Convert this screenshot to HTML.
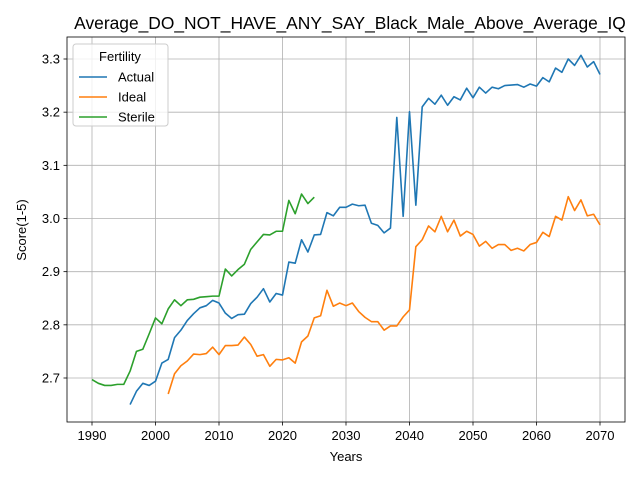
<!DOCTYPE html>
<html><head><meta charset="utf-8"><style>
body{margin:0;background:#fff;}
svg{display:block;font-family:"Liberation Sans","DejaVu Sans",sans-serif;}
</style></head><body>
<svg id="chart" width="640" height="480" viewBox="0 0 640 480" xmlns="http://www.w3.org/2000/svg">
<rect width="640" height="480" fill="#fff"/>
<g id="grid"></g>
<g id="series"></g>
<rect x="67" y="37" width="558" height="385" fill="none" stroke="#000" stroke-width="0.8"/>
<g id="ticks"></g>
<text x="350" y="29" text-anchor="middle" font-size="17.4">Average_DO_NOT_HAVE_ANY_SAY_Black_Male_Above_Average_IQ</text>
<text x="346" y="461" text-anchor="middle" font-size="13">Years</text>
<text transform="translate(26,230) rotate(-90)" text-anchor="middle" font-size="13">Score(1-5)</text>
<g id="legend">
<rect x="73" y="44" width="95" height="82" rx="3" fill="#fff" fill-opacity="0.8" stroke="#ccc"/>
<text x="120" y="61" text-anchor="middle" font-size="13">Fertility</text>
</g>
</svg>
<script>
const xTicks=[1990,2000,2010,2020,2030,2040,2050,2060,2070];
const yTicks=[2.7,2.8,2.9,3.0,3.1,3.2,3.3];
const seriesNames=["Actual","Ideal","Sterile"];
const seriesColors=["#1f77b4","#ff7f0e","#2ca02c"];
const actualStart=1996;
const actualValues=[2.65,2.675,2.69,2.686,2.694,2.728,2.735,2.776,2.79,2.808,2.821,2.832,2.836,2.846,2.841,2.822,2.812,2.819,2.82,2.84,2.852,2.868,2.843,2.859,2.856,2.918,2.916,2.96,2.937,2.969,2.97,3.011,3.005,3.021,3.021,3.027,3.024,3.025,2.991,2.987,2.973,2.982,3.19,3.004,3.201,3.025,3.21,3.226,3.215,3.232,3.213,3.229,3.223,3.245,3.227,3.247,3.236,3.247,3.244,3.25,3.251,3.252,3.247,3.253,3.249,3.265,3.257,3.283,3.275,3.3,3.288,3.307,3.285,3.295,3.271];
const idealStart=2002;
const idealValues=[2.67,2.708,2.723,2.732,2.745,2.744,2.746,2.758,2.744,2.761,2.761,2.762,2.777,2.763,2.741,2.744,2.722,2.735,2.734,2.738,2.728,2.768,2.779,2.813,2.817,2.865,2.835,2.841,2.836,2.841,2.825,2.814,2.806,2.806,2.79,2.798,2.798,2.815,2.828,2.947,2.96,2.986,2.975,3.004,2.975,2.997,2.967,2.976,2.97,2.948,2.957,2.944,2.951,2.951,2.94,2.944,2.939,2.951,2.955,2.974,2.966,3.004,2.997,3.041,3.015,3.035,3.005,3.008,2.988];
const sterileStart=1990;
const sterileValues=[2.697,2.69,2.686,2.686,2.688,2.688,2.713,2.75,2.754,2.783,2.813,2.802,2.83,2.847,2.836,2.847,2.848,2.852,2.853,2.854,2.854,2.905,2.892,2.904,2.914,2.942,2.956,2.97,2.969,2.976,2.976,3.034,3.009,3.046,3.028,3.04];

const NS="http://www.w3.org/2000/svg";
function X(yr){return 92+(yr-1990)*(600-92)/80;}
function Y(v){return 378-(v-2.7)*(378-59)/0.6;}
function mk(tag,attrs,parent){const e=document.createElementNS(NS,tag);for(const k in attrs)e.setAttribute(k,attrs[k]);parent.appendChild(e);return e;}
const grid=document.getElementById('grid'),ticks=document.getElementById('ticks'),ser=document.getElementById('series'),leg=document.getElementById('legend');
xTicks.forEach(t=>{
  const x=X(t);
  const g=mk('line',{x1:x,x2:x,y1:37,y2:422,stroke:'#b0b0b0','stroke-width':0.8},grid);
  
  
  mk('line',{x1:x,x2:x,y1:422,y2:425.5,stroke:'#000','stroke-width':0.8},ticks);
  const tx=mk('text',{x:x,y:440,'text-anchor':'middle','font-size':13},ticks);
  tx.textContent=t;
  
  
});
yTicks.forEach(t=>{
  const y=Y(t);
  const g=mk('line',{x1:67,x2:625,y1:y,y2:y,stroke:'#b0b0b0','stroke-width':0.8},grid);
  
  
  mk('line',{x1:63.5,x2:67,y1:y,y2:y,stroke:'#000','stroke-width':0.8},ticks);
  const tx=mk('text',{x:60,y:y+4.5,'text-anchor':'end','font-size':13},ticks);
  tx.textContent=t.toFixed(1);
  
  
});
const data=[[actualStart,actualValues],[idealStart,idealValues],[sterileStart,sterileValues]];
data.forEach((d,i)=>{
  const pts=d[1].map((v,j)=>X(d[0]+j).toFixed(2)+','+Y(v).toFixed(2)).join(' ');
  const p=mk('polyline',{points:pts,fill:'none',stroke:seriesColors[i],'stroke-width':1.6,'stroke-linejoin':'round'},ser);
  
  
  const y=77+i*20;
  const l=mk('line',{x1:79,x2:107,y1:y,y2:y,stroke:seriesColors[i],'stroke-width':1.6},leg);
  
  
  const t=mk('text',{x:118,y:y+4.5,'font-size':13},leg);
  t.textContent=seriesNames[i];
  
  
});
</script>
</body></html>
